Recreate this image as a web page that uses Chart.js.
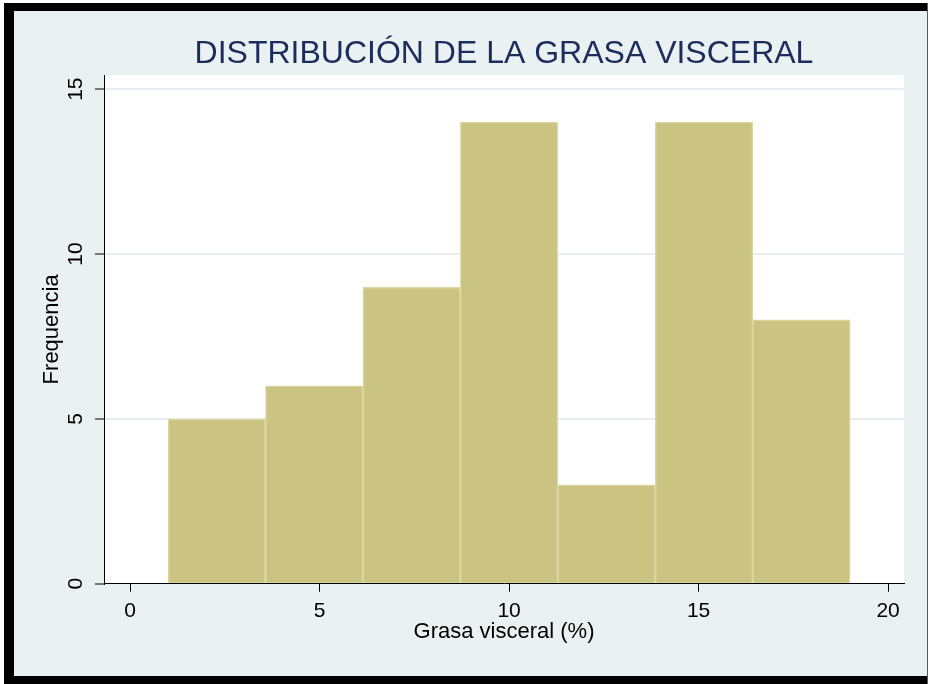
<!DOCTYPE html>
<html>
<head>
<meta charset="utf-8">
<script src="https://cdn.jsdelivr.net/npm/chart.js@4.4.1/dist/chart.umd.min.js"></script>
<style>
  html, body { margin: 0; padding: 0; background: #fff; }
  canvas { display: block; }
</style>
</head>
<body>
<canvas id="chart" width="928" height="684"></canvas>
<script>
// histogram bins (edges) and counts
const binEdges = [1, 3.571, 6.143, 8.714, 11.286, 13.857, 16.429, 19];
const frequencies = [5, 6, 9, 14, 3, 14, 8];
const xTicks = [0, 5, 10, 15, 20];
const yTicks = [0, 5, 10, 15];

const titleText = 'DISTRIBUCIÓN DE LA GRASA VISCERAL';
const xTitle = 'Grasa visceral (%)';
const yTitle = 'Frequencia';

const FONT = "'Liberation Sans', Arial, Helvetica, sans-serif";

// bars sit on the middle of each bin
const points = frequencies.map((f, i) => ({ x: (binEdges[i] + binEdges[i + 1]) / 2, y: f }));

// frame, light background, white plot region and the title
const framePlugin = {
  id: 'frame',
  beforeDraw(chart) {
    const { ctx, chartArea: a } = chart;
    ctx.save();
    ctx.fillStyle = '#ffffff';
    ctx.fillRect(0, 0, 928, 684);
    ctx.fillStyle = '#000000';
    ctx.fillRect(4, 3, 924, 681);
    ctx.fillStyle = '#e9f1f3';
    ctx.fillRect(14, 11, 913, 665);
    ctx.fillStyle = '#5a5a5a';
    ctx.fillRect(927, 3, 1, 681);
    ctx.fillStyle = '#ffffff';
    ctx.fillRect(a.left, a.top, a.right - a.left, a.bottom - a.top);

    ctx.fillStyle = '#1c2d5c';
    ctx.font = '32px ' + FONT;
    ctx.textAlign = 'center';
    ctx.textBaseline = 'alphabetic';
    ctx.fillText(titleText, (a.left + a.right) / 2, 63);
    ctx.restore();
  }
};

new Chart(document.getElementById('chart'), {
  type: 'bar',
  data: {
    datasets: [{
      data: points,
      backgroundColor: '#cbc382',
      borderColor: '#dbd6a2',
      borderWidth: 1.5,
      barPercentage: 1,
      categoryPercentage: 1
    }]
  },
  options: {
    responsive: false,
    animation: false,
    layout: { padding: { top: 75, right: 24, left: 0, bottom: 0 } },
    plugins: {
      legend: { display: false },
      tooltip: { enabled: false },
      title: { display: false }
    },
    scales: {
      x: {
        type: 'linear',
        offset: false,
        min: -0.69,
        max: 20.42,
        afterBuildTicks: (s) => { s.ticks = xTicks.map(v => ({ value: v })); },
        afterFit: (s) => { s.height = 100.3; },
        grid: { offset: false, drawOnChartArea: false, tickLength: 8, tickColor: '#000', tickWidth: 1 },
        border: { display: true, color: '#000', width: 1 },
        ticks: { color: '#000', padding: 7, maxRotation: 0, font: { family: FONT, size: 21 } },
        title: {
          display: true,
          text: xTitle,
          color: '#000',
          font: { family: FONT, size: 22 },
          padding: { top: 0, bottom: 38.8 }
        }
      },
      y: {
        min: 0,
        max: 15.43,
        afterBuildTicks: (s) => { s.ticks = yTicks.map(v => ({ value: v })); },
        afterFit: (s) => { s.width = 104; },
        grid: {
          color: (c) => (c.tick && c.tick.value === 0 ? 'rgba(0,0,0,0)' : '#e6eef1'),
          lineWidth: 2,
          tickLength: 9,
          tickColor: '#000',
          tickWidth: 1
        },
        border: { display: true, color: '#000', width: 1 },
        ticks: {
          color: '#000',
          padding: 7,
          minRotation: 90,
          maxRotation: 90,
          crossAlign: 'center',
          font: { family: FONT, size: 21 }
        },
        title: {
          display: true,
          text: yTitle,
          color: '#000',
          font: { family: FONT, size: 22 },
          padding: { top: 38.8, bottom: 0 }
        }
      }
    }
  },
  plugins: [framePlugin]
});
</script>
</body>
</html>
